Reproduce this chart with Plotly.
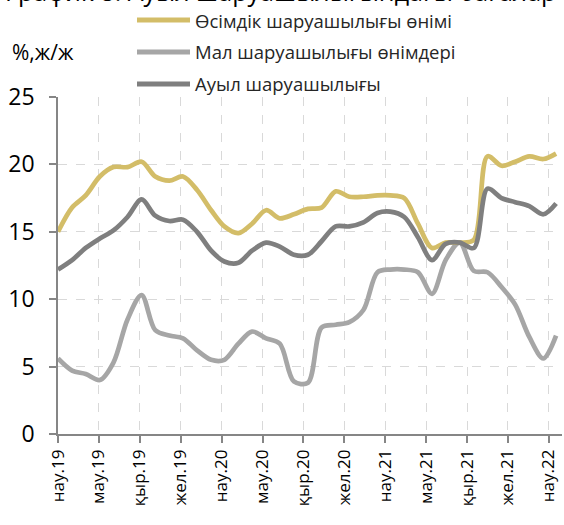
import pandas as pd
import plotly.graph_objects as go

# ---- data (monthly, Mar 2019 .. Mar 2022) ----
months = pd.date_range("2019-03-01", "2022-03-01", freq="MS")
tick_labels = ["нау.19", "мау.19", "қыр.19", "жел.19",
               "нау.20", "мау.20", "қыр.20", "жел.20",
               "нау.21", "мау.21", "қыр.21", "жел.21", "нау.22"]

names = ["Өсімдік шаруашылығы өнімі", "Мал шаруашылығы өнімдері", "Ауыл шаруашылығы"]

crop = [15.0, 16.8, 17.7, 19.1, 19.8, 19.8, 20.2, 19.1, 18.8, 19.1,
        18.1, 16.6, 15.4, 14.9, 15.6, 16.6, 16.0, 16.3, 16.7, 16.8,
        18.0, 17.6, 17.6, 17.7, 17.7, 17.5, 15.6, 13.8, 14.2, 14.2,
        14.4, 20.6, 19.9, 20.2, 20.6, 20.4, 20.8]

livestock = [5.6, 4.7, 4.45, 4.0, 5.3, 8.5, 10.3, 7.7, 7.3, 7.1,
             6.2, 5.5, 5.5, 6.7, 7.6, 7.1, 6.7, 3.9, 3.8, 7.9,
             8.1, 8.3, 9.2, 12.0, 12.2, 12.2, 12.0, 10.4, 12.9, 14.2,
             12.1, 12.0, 10.9, 9.6, 7.2, 5.6, 7.3]

agri = [12.2, 12.9, 13.8, 14.5, 15.1, 16.1, 17.4, 16.2, 15.8, 15.9,
        15.0, 13.6, 12.8, 12.7, 13.6, 14.2, 13.9, 13.3, 13.3, 14.3,
        15.4, 15.4, 15.7, 16.4, 16.5, 16.1, 14.6, 12.9, 14.1, 14.2,
        13.8, 18.2, 17.5, 17.2, 16.9, 16.3, 17.1]

y_unit = "%,ж/ж"
title_text = "График 8. Ауыл шаруашылығындағы бағалар"

colors = ["#D3BD68", "#A6A6A6", "#7F7F7F"]
series = [crop, livestock, agri]

FONT = "Open Sans"
W, H = 564, 525
ML, MR, MT, MB = 58, 2, 97, 91
PW, PH = W - ML - MR, H - MT - MB

fig = go.Figure()
# draw livestock first, then crop, then agri on top
for idx in [1, 0, 2]:
    fig.add_trace(go.Scatter(
        x=months, y=series[idx], mode="lines", name=names[idx],
        line=dict(color=colors[idx], width=4.7, shape="spline", smoothing=0.9),
        showlegend=False, hoverinfo="skip"))

axis_col = "#868686"
grid_col = "#D9D9D9"

# date-axis major unit of 90 days, as in the source chart
tick_pos = [months[0] + pd.Timedelta(days=90 * j) for j in range(len(tick_labels))]

fig.update_xaxes(
    range=[months[0], months[-1] + pd.Timedelta(days=13)],
    tickvals=tick_pos, ticktext=tick_labels,
    tickangle=-90, tickfont=dict(family=FONT, size=17, color="#000000"),
    ticklabeloverflow="allow",
    showline=True, linecolor=axis_col, linewidth=1.5,
    ticks="outside", ticklen=7, tickcolor=axis_col, tickwidth=1.5,
    showgrid=True, gridcolor=grid_col, griddash="dash", gridwidth=1.2,
    zeroline=False, automargin=False)

fig.update_yaxes(
    range=[0, 25], dtick=5, tick0=0,
    tickfont=dict(family=FONT, size=23, color="#000000"),
    showline=True, linecolor=axis_col, linewidth=1.5,
    ticks="outside", ticklen=7, tickcolor=axis_col, tickwidth=1.5,
    ticklabelstandoff=10,
    showgrid=True, gridcolor=grid_col, griddash="dash", gridwidth=1.2,
    zeroline=False, automargin=False)

def px_x(p):
    return (p - ML) / PW

def px_y(p):
    return (H - MB - p) / PH

shapes = []
annotations = []
# manual legend
rows = [20, 52, 84]
for i, yy in enumerate(rows):
    shapes.append(dict(type="line", xref="paper", yref="paper",
                       x0=px_x(137), x1=px_x(190), y0=px_y(yy), y1=px_y(yy),
                       line=dict(color=colors[i], width=5)))
    annotations.append(dict(text=names[i], xref="paper", yref="paper",
                            x=px_x(193), y=px_y(yy), xanchor="left", yanchor="middle",
                            showarrow=False,
                            font=dict(family=FONT, size=18.5, color="#262626")))

# unit label
annotations.append(dict(text=y_unit, xref="paper", yref="paper",
                        x=px_x(10), y=px_y(52), xanchor="left", yanchor="middle",
                        showarrow=False, font=dict(family=FONT, size=21, color="#000000")))
# partially visible title at the very top
annotations.append(dict(text=title_text, xref="paper", yref="paper",
                        x=px_x(558), y=px_y(-9), xanchor="right", yanchor="middle",
                        showarrow=False, font=dict(family=FONT, size=25, color="#000000")))

fig.update_layout(
    width=W, height=H,
    margin=dict(l=ML, r=MR, t=MT, b=MB),
    paper_bgcolor="white", plot_bgcolor="white",
    shapes=shapes, annotations=annotations,
    font=dict(family=FONT),
)

fig.write_html("out.html",
               config={"displayModeBar": False},
               post_script="document.body.style.margin='0';document.body.style.overflow='hidden';")
